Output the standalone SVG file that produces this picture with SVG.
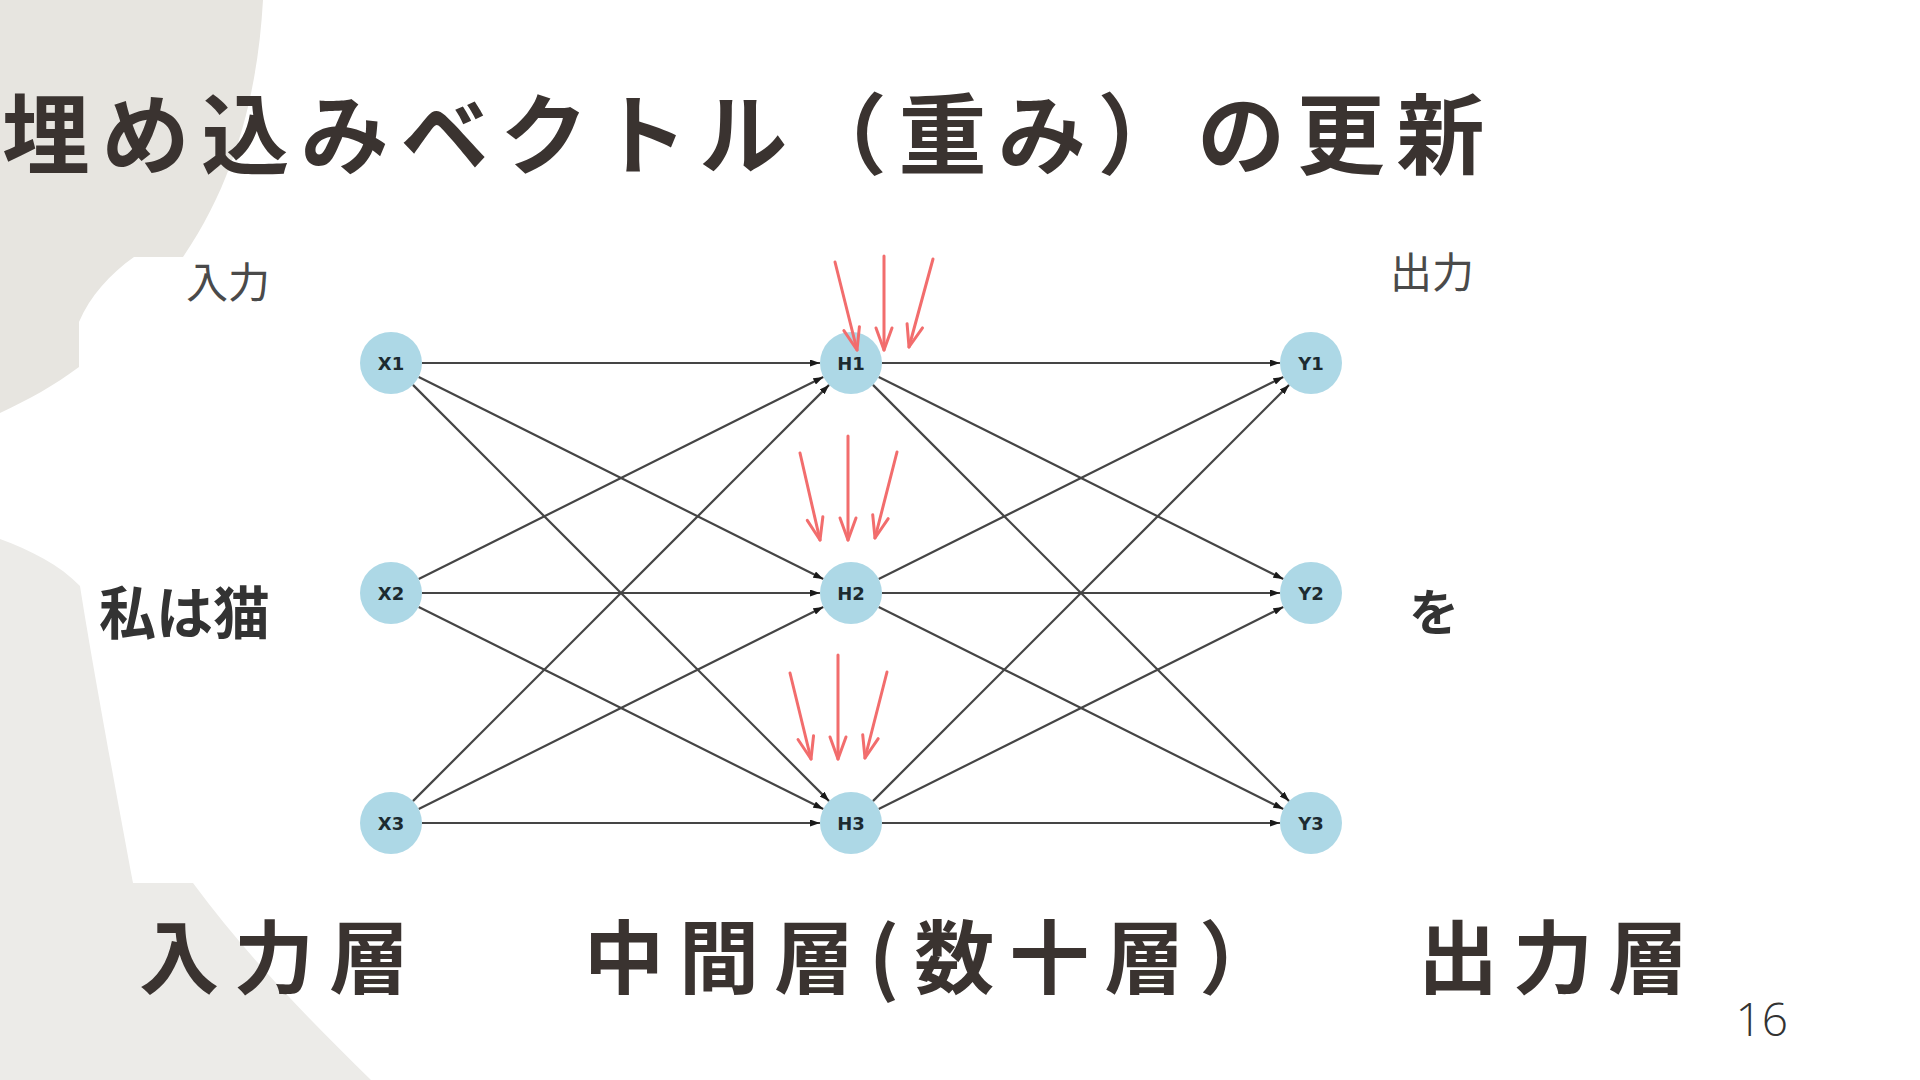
<svg xmlns="http://www.w3.org/2000/svg" width="1920" height="1080" viewBox="0 0 1920 1080">
  <style>
    .jp { font-family: "Noto Sans CJK JP", "Noto Sans", sans-serif; }
    .title { font-size: 88px; font-weight: 700; fill: #3a3330; letter-spacing: 11.6px; }
    .layer { font-size: 80px; font-weight: 700; fill: #3a3330; letter-spacing: 15px; }
    .small { font-size: 42px; font-weight: 400; fill: #4a4a4a; }
    .word { font-weight: 700; fill: #333333; }
    .node circle { fill: #ADD8E6; }
    .node text { font-family: "DejaVu Sans", sans-serif; font-size: 18px; font-weight: 700; fill: #1c2a30; text-anchor: middle; }
    .edge { stroke: #454545; stroke-width: 2.2; fill: none; marker-end: url(#ah); }
    .upd { stroke: #F26D6D; stroke-width: 3; fill: none; stroke-linecap: round; marker-end: url(#red); }
    .pagenum { font-family: "Open Sans", "Liberation Sans", sans-serif; font-size: 46px; font-weight: 300; fill: #333333; }
  </style>
  <defs>
    <marker id="ah" markerUnits="userSpaceOnUse" viewBox="0 0 10 7" markerWidth="10" markerHeight="7" refX="10" refY="3.5" orient="auto">
      <path d="M0,0 L10,3.5 L0,7 Z" fill="#1a1a1a"/>
    </marker>
    <marker id="red" markerUnits="userSpaceOnUse" viewBox="-24 -11 27 22" markerWidth="27" markerHeight="22" refX="0" refY="0" orient="auto" overflow="visible">
      <path d="M-22,-8 L0,0 L-22,8" fill="none" stroke="#F26D6D" stroke-width="3" stroke-linecap="round" stroke-linejoin="round"/>
    </marker>
  </defs>

  <rect width="1920" height="1080" fill="#ffffff"/>

  <g id="background">
    <path d="M0,0 L263,0 C258,90 236,180 183,257 L134,257 C110,274 90,296 79,322 L79,367 C55,385 28,400 0,413 Z" fill="#E7E5E0"/>
    <path d="M0,539 C30,550 60,565 80,586 C90,650 110,760 133,883 L193,883 C250,960 310,1020 371,1080 L0,1080 Z" fill="#ECEBE8"/>
  </g>

  <text class="jp title" x="2" y="167">埋め込みベクトル（重み）の更新</text>

  <text class="jp small" x="186" y="298">入力</text>
  <text class="jp small" x="1390" y="288">出力</text>
  <text class="jp word" x="99" y="634" font-size="57">私は猫</text>
  <text class="jp word" x="1409" y="631" font-size="50">を</text>

  <g id="connectors">
    <path class="edge" d="M422,363 L820,363"/>
    <path class="edge" d="M418.7,376.9 L823.3,579.1"/>
    <path class="edge" d="M412.9,384.9 L829.1,801.1"/>
    <path class="edge" d="M418.7,579.1 L823.3,376.9"/>
    <path class="edge" d="M422,593 L820,593"/>
    <path class="edge" d="M418.7,606.9 L823.3,809.1"/>
    <path class="edge" d="M412.9,801.1 L829.1,384.9"/>
    <path class="edge" d="M418.7,809.1 L823.3,606.9"/>
    <path class="edge" d="M422,823 L820,823"/>
    <path class="edge" d="M882,363 L1280,363"/>
    <path class="edge" d="M878.7,376.9 L1283.3,579.1"/>
    <path class="edge" d="M872.9,384.9 L1289.1,801.1"/>
    <path class="edge" d="M878.7,579.1 L1283.3,376.9"/>
    <path class="edge" d="M882,593 L1280,593"/>
    <path class="edge" d="M878.7,606.9 L1283.3,809.1"/>
    <path class="edge" d="M872.9,801.1 L1289.1,384.9"/>
    <path class="edge" d="M878.7,809.1 L1283.3,606.9"/>
    <path class="edge" d="M882,823 L1280,823"/>
  </g>

  <g id="node-X1" class="node"><circle cx="391" cy="363" r="31"/><text x="391" y="369.5">X1</text></g>
  <g id="node-X2" class="node"><circle cx="391" cy="593" r="31"/><text x="391" y="599.5">X2</text></g>
  <g id="node-X3" class="node"><circle cx="391" cy="823" r="31"/><text x="391" y="829.5">X3</text></g>
  <g id="node-H1" class="node"><circle cx="851" cy="363" r="31"/><text x="851" y="369.5">H1</text></g>
  <g id="node-H2" class="node"><circle cx="851" cy="593" r="31"/><text x="851" y="599.5">H2</text></g>
  <g id="node-H3" class="node"><circle cx="851" cy="823" r="31"/><text x="851" y="829.5">H3</text></g>
  <g id="node-Y1" class="node"><circle cx="1311" cy="363" r="31"/><text x="1311" y="369.5">Y1</text></g>
  <g id="node-Y2" class="node"><circle cx="1311" cy="593" r="31"/><text x="1311" y="599.5">Y2</text></g>
  <g id="node-Y3" class="node"><circle cx="1311" cy="823" r="31"/><text x="1311" y="829.5">Y3</text></g>

  <g id="update-arrows">
    <path class="upd" d="M835,262 L857,350"/>
    <path class="upd" d="M884,256 L884,350"/>
    <path class="upd" d="M933,259 L909,347"/>
    <path class="upd" d="M800,453 L820,540"/>
    <path class="upd" d="M848,436 L848,540"/>
    <path class="upd" d="M897,452 L875,538"/>
    <path class="upd" d="M790,673 L811,759"/>
    <path class="upd" d="M838,655 L838,759"/>
    <path class="upd" d="M887,672 L865,758"/>
  </g>

  <text class="jp layer" x="139" y="987">入力層</text>
  <text class="jp layer" x="584" y="987">中間層(数十層）</text>
  <text class="jp layer" x="1418" y="987">出力層</text>

  <text class="pagenum" x="1788" y="1036" text-anchor="end">16</text>
</svg>
